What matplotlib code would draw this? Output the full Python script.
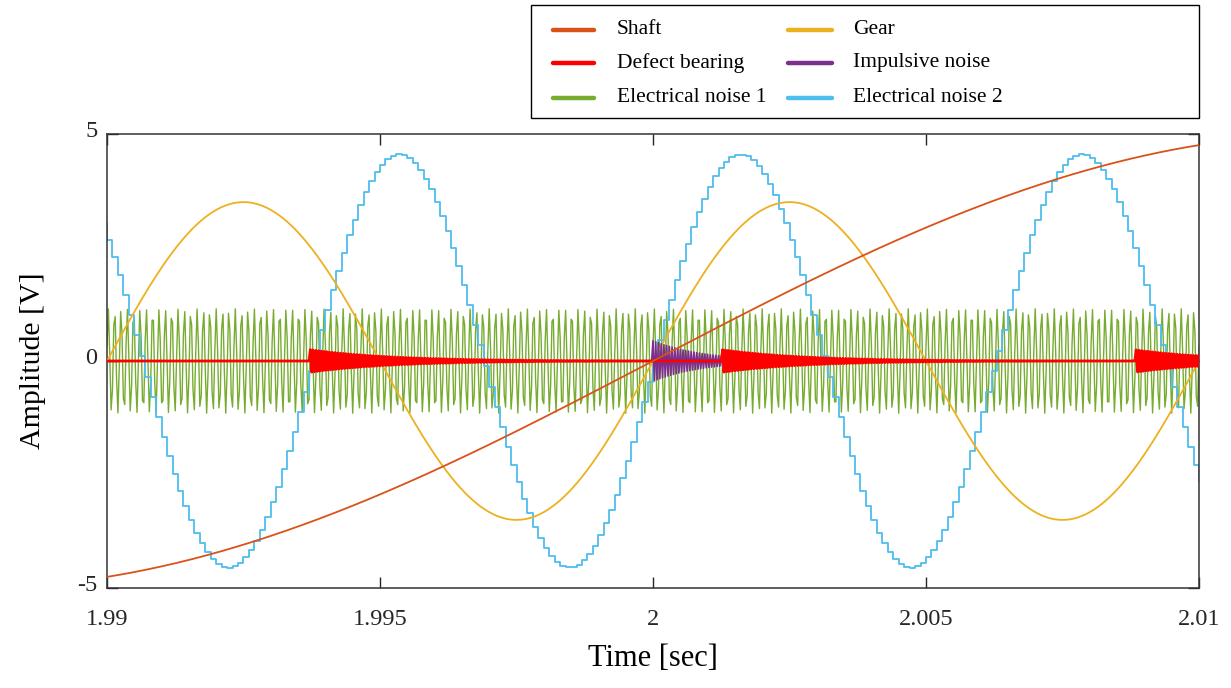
import numpy as np
import matplotlib
matplotlib.use("Agg")
import matplotlib.pyplot as plt
from matplotlib.patches import Rectangle
from matplotlib.lines import Line2D
import matplotlib.transforms as mtransforms

# ---------------- data ----------------
t_start, t_end = 1.99, 2.01
fs_main = 40000          # sample rate of simulated signals [Hz]
fs_hold = 10000          # sample-and-hold rate of electrical noise 2 [Hz]
t_ref = 2.0              # phase reference time [s]

shaft_amp, shaft_freq = 5.0, 20.0
gear_amp, gear_freq = 3.5, 100.0
elec2_amp, elec2_freq = 4.55, 160.0
elec1_amp, elec1_freq = 1.15, 8600.0

bearing_times = [1.99372, 2.00126, 2.00883]
bearing_amp, bearing_tau = 0.25, 0.0015

impulse_times = [2.0]
impulse_amp, impulse_tau = 0.45, 0.0009

x_ticks = [1.99, 1.995, 2.0, 2.005, 2.01]
x_ticklabels = ["1.99", "1.995", "2", "2.005", "2.01"]
y_ticks = [-5, 0, 5]
y_ticklabels = ["-5", "0", "5"]

labels = ["Shaft", "Gear", "Defect bearing", "Impulsive noise",
          "Electrical noise 1", "Electrical noise 2"]
colors = ["#D95319", "#EDB120", "#FF0000", "#7E2F8E", "#77AC30", "#4DBEEE"]

# ---------------- signals ----------------
n_main = int(round((t_end - t_start) * fs_main)) + 1
t = t_start + np.arange(n_main) / fs_main
th = t_start + np.arange(-1, int(round((t_end - t_start) * fs_hold)) + 2) / fs_hold

shaft = shaft_amp * np.sin(2 * np.pi * shaft_freq * (t - t_ref))
gear = gear_amp * np.sin(2 * np.pi * gear_freq * (t - t_ref))
elec1 = elec1_amp * np.sin(2 * np.pi * elec1_freq * (t - t_ref) + 0.3)
elec2 = elec2_amp * np.sin(2 * np.pi * elec2_freq * (th - t_ref))

def bursts(times, amp, tau):
    # decaying oscillation at the Nyquist rate (sign alternates each sample)
    y = np.zeros_like(t)
    for t0 in times:
        idx = np.nonzero(t >= t0 - 1e-12)[0]
        k = np.arange(idx.size)
        y[idx] += amp * np.exp(-(t[idx] - t0) / tau) * np.where(k % 2 == 0, 1.0, -1.0)
    return y

bearing = bursts(bearing_times, bearing_amp, bearing_tau)
impulse = bursts(impulse_times, impulse_amp, impulse_tau)

# ---------------- plot ----------------
plt.rcParams["font.family"] = ["Liberation Serif", "DejaVu Serif"]
W, H = 1231, 688
fig = plt.figure(figsize=(W / 100, H / 100), dpi=100)
ax = fig.add_axes([107 / W, 1 - 588 / H, (1199 - 107) / W, (588 - 134) / H])

h_elec1, = ax.plot(t, elec1, color=colors[4], lw=1.0, zorder=1)
h_elec2, = ax.step(th, elec2, where="post", color=colors[5], lw=1.3, zorder=2)
h_gear, = ax.plot(t, gear, color=colors[1], lw=1.3, zorder=3)
h_imp, = ax.plot(t, impulse, color=colors[3], lw=1.2, zorder=4)
h_bear, = ax.plot(t, bearing, color=colors[2], lw=2.0, zorder=5)
h_shaft, = ax.plot(t, shaft, color=colors[0], lw=1.3, zorder=6)

ax.set_xlim(t_start, t_end)
ax.set_ylim(-5, 5)
ax.set_xticks(x_ticks)
ax.set_xticklabels(x_ticklabels)
ax.set_yticks(y_ticks)
ax.set_yticklabels(y_ticklabels)
ax.tick_params(direction="in", length=8, width=1, colors="#262626",
               labelsize=17.5, top=True, right=True)
ax.tick_params(axis="x", pad=15)
ax.tick_params(axis="y", pad=7)
offset = mtransforms.ScaledTranslation(0, 5 / 100, fig.dpi_scale_trans)
for lab in ax.get_yticklabels():
    lab.set_transform(lab.get_transform() + offset)
for s in ax.spines.values():
    s.set_color("#333333")
    s.set_linewidth(1.1)
ax.set_xlabel("Time [sec]", fontsize=22, labelpad=10)
ax.set_ylabel("Amplitude [V]", fontsize=21.5, labelpad=22)

# ---------------- legend (box above the axes, two columns) ----------------
def fx(px):
    return px / W

def fy(py):
    return 1 - py / H

fig.patches.append(Rectangle((fx(531), fy(118)), fx(1199) - fx(531), fy(5) - fy(118),
                             transform=fig.transFigure, facecolor="white",
                             edgecolor="black", lw=1.0, zorder=10))
order = [(0, 0), (2, 0), (4, 0), (1, 1), (3, 1), (5, 1)]
row_of = {0: 0, 2: 1, 4: 2, 1: 0, 3: 1, 5: 2}
row_y = [29.5, 63, 97.5]
col_handle = [(553, 594), (788, 832)]
col_text = [617, 853]
for i, col in order:
    r = row_of[i]
    x0, x1 = col_handle[col]
    fig.lines.append(Line2D([fx(x0), fx(x1)], [fy(row_y[r]), fy(row_y[r])],
                            transform=fig.transFigure, color=colors[i], lw=3.2,
                            solid_capstyle="round", zorder=11))
    fig.text(fx(col_text[col]), fy(row_y[r]), labels[i], fontsize=15.5,
             va="center", ha="left", zorder=12)

fig.savefig("out.png", dpi=100)
